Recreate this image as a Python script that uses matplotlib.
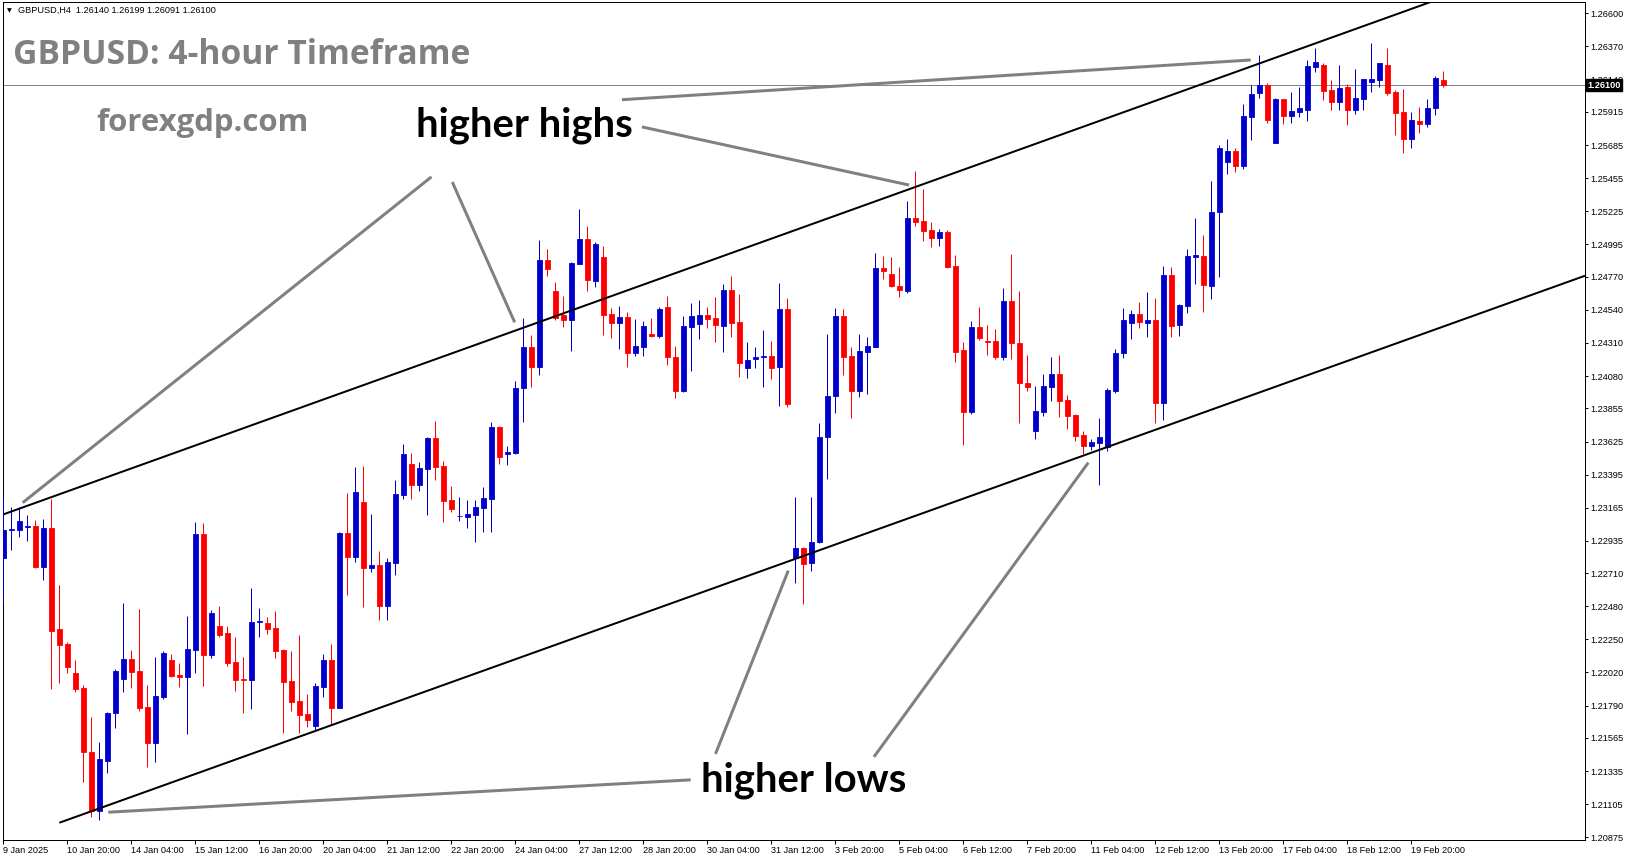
import matplotlib
matplotlib.use("Agg")
import matplotlib.pyplot as plt
import matplotlib.transforms as mtransforms

# ---------------- data (GBPUSD H4, bars from 9 Jan 2025 12:00) ----------------
opens = [1.22818, 1.23008, 1.23010, 1.23033, 1.23038, 1.22755, 1.23024, 1.22322, 1.22218, 1.22017,
         1.21915, 1.21470, 1.21058, 1.21408, 1.21736, 1.21977, 1.22114, 1.22031, 1.21781, 1.21532,
         1.21852, 1.22107, 1.22000, 1.21991, 1.22176, 1.22982, 1.22144, 1.22343, 1.22297, 1.22093,
         1.21975, 1.21970, 1.22369, 1.22364, 1.22330, 1.22176, 1.21963, 1.21822, 1.21732, 1.21648,
         1.21922, 1.22107, 1.21776, 1.22987, 1.22825, 1.23202, 1.22748, 1.22764, 1.22484, 1.22783,
         1.23255, 1.23468, 1.23322, 1.23436, 1.23649, 1.23454, 1.23218, 1.23105, 1.23102, 1.23114,
         1.23165, 1.23228, 1.23723, 1.23540, 1.23543, 1.23999, 1.24279, 1.24145, 1.24886, 1.24670,
         1.24504, 1.24469, 1.24858, 1.25030, 1.24742, 1.24905, 1.24511, 1.24451, 1.24488, 1.24242,
         1.24284, 1.24370, 1.24360, 1.24557, 1.24210, 1.23978, 1.24423, 1.24441, 1.24504, 1.24481,
         1.24430, 1.24678, 1.24458, 1.24133, 1.24196, 1.24210, 1.24219, 1.24140, 1.24546, 1.22813,
         1.22883, 1.22779, 1.22924, 1.23654, 1.23941, 1.24497, 1.24219, 1.23978, 1.24249, 1.24284,
         1.24832, 1.24788, 1.24705, 1.24673, 1.25178, 1.25157, 1.25094, 1.25041, 1.25083, 1.24844,
         1.24260, 1.23832, 1.24423, 1.24323, 1.24323, 1.24214, 1.24601, 1.24307, 1.24029, 1.23700,
         1.23832, 1.24006, 1.24094, 1.23913, 1.23809, 1.23670, 1.23596, 1.23617, 1.23589, 1.23976,
         1.24238, 1.24447, 1.24511, 1.24451, 1.24470, 1.23890, 1.24782, 1.24435, 1.24569, 1.24907,
         1.24914, 1.24708, 1.25218, 1.25570, 1.25644, 1.25542, 1.25882, 1.26044, 1.26102, 1.25701,
         1.26005, 1.25889, 1.25917, 1.25928, 1.26229, 1.26241, 1.26067, 1.25986, 1.26086, 1.25928,
         1.26005, 1.26125, 1.26137, 1.26241, 1.26053, 1.25914, 1.25729, 1.25852, 1.25833, 1.25944,
         1.26140]
highs = [1.23230, 1.23168, 1.23168, 1.23114, 1.23080, 1.23087, 1.23223, 1.22628, 1.22232, 1.22107,
         1.21933, 1.21713, 1.21537, 1.21748, 1.22045, 1.22503, 1.22176, 1.22461, 1.21933, 1.22130,
         1.22169, 1.22149, 1.22084, 1.22415, 1.23068, 1.23061, 1.22454, 1.22484, 1.22345, 1.22269,
         1.22130, 1.22610, 1.22471, 1.22408, 1.22447, 1.22180, 1.22169, 1.22280, 1.21871, 1.21950,
         1.22149, 1.22218, 1.22998, 1.23270, 1.23450, 1.23455, 1.23120, 1.22864, 1.22813, 1.23357,
         1.23607, 1.23542, 1.23480, 1.23658, 1.23770, 1.23489, 1.23315, 1.23241, 1.23218, 1.23218,
         1.23311, 1.23758, 1.23732, 1.23593, 1.24045, 1.24481, 1.24365, 1.25025, 1.24960, 1.24733,
         1.24636, 1.24874, 1.25240, 1.25122, 1.25013, 1.24983, 1.24550, 1.24566, 1.24527, 1.24476,
         1.24462, 1.24481, 1.24562, 1.24636, 1.24289, 1.24497, 1.24590, 1.24608, 1.24562, 1.24631,
         1.24720, 1.24775, 1.24650, 1.24319, 1.24284, 1.24400, 1.24323, 1.24729, 1.24620, 1.23242,
         1.22890, 1.23242, 1.23756, 1.24372, 1.24550, 1.24546, 1.24284, 1.24374, 1.24351, 1.24937,
         1.24914, 1.24904, 1.24835, 1.25298, 1.25506, 1.25379, 1.25152, 1.25101, 1.25094, 1.24920,
         1.24318, 1.24464, 1.24561, 1.24434, 1.24406, 1.24693, 1.24927, 1.24670, 1.24226, 1.24010,
         1.24094, 1.24210, 1.24226, 1.23948, 1.23816, 1.23698, 1.23640, 1.23786, 1.23995, 1.24266,
         1.24551, 1.24539, 1.24592, 1.24662, 1.24625, 1.24845, 1.24835, 1.24581, 1.24960, 1.25176,
         1.25060, 1.25435, 1.25685, 1.25727, 1.25667, 1.25970, 1.26102, 1.26310, 1.26119, 1.26014,
         1.26005, 1.26056, 1.26090, 1.26276, 1.26361, 1.26252, 1.26137, 1.26241, 1.26109, 1.26213,
         1.26141, 1.26391, 1.26252, 1.26361, 1.26067, 1.26074, 1.25914, 1.25947, 1.26005, 1.26164,
         1.26199]
lows = [1.22512, 1.22871, 1.22964, 1.22936, 1.22744, 1.22663, 1.21905, 1.21950, 1.22019, 1.21882,
        1.21257, 1.21014, 1.20995, 1.21319, 1.21632, 1.21887, 1.21915, 1.21753, 1.21366, 1.21401,
        1.21834, 1.21991, 1.21922, 1.21595, 1.22014, 1.21929, 1.22123, 1.22269, 1.22067, 1.21894,
        1.21741, 1.21764, 1.22269, 1.22290, 1.22123, 1.21602, 1.21753, 1.21602, 1.21644, 1.21621,
        1.21852, 1.21655, 1.21771, 1.22559, 1.22790, 1.22477, 1.22720, 1.22384, 1.22384, 1.22697,
        1.23225, 1.23225, 1.23283, 1.23114, 1.23357, 1.23068, 1.23137, 1.23075, 1.23021, 1.22929,
        1.22998, 1.22998, 1.23468, 1.23462, 1.23538, 1.23762, 1.24006, 1.24087, 1.24774, 1.24469,
        1.24423, 1.24256, 1.24858, 1.24673, 1.24700, 1.24365, 1.24346, 1.24265, 1.24145, 1.24221,
        1.24221, 1.24353, 1.24346, 1.24157, 1.23930, 1.23967, 1.24117, 1.24337, 1.24416, 1.24319,
        1.24249, 1.24353, 1.24075, 1.24069, 1.24138, 1.24006, 1.24057, 1.23874, 1.23862, 1.22644,
        1.22494, 1.22728, 1.22917, 1.23362, 1.23821, 1.24087, 1.23790, 1.23936, 1.23955, 1.24279,
        1.24751, 1.24700, 1.24631, 1.24659, 1.25122, 1.25020, 1.24978, 1.24985, 1.24832, 1.24179,
        1.23600, 1.23816, 1.24330, 1.24226, 1.24198, 1.24191, 1.24198, 1.23756, 1.23978, 1.23642,
        1.23804, 1.23908, 1.23797, 1.23714, 1.23630, 1.23538, 1.23566, 1.23323, 1.23559, 1.23965,
        1.24208, 1.24335, 1.24412, 1.24354, 1.23756, 1.23775, 1.24354, 1.24361, 1.24520, 1.24720,
        1.24527, 1.24615, 1.24766, 1.25484, 1.25500, 1.25519, 1.25720, 1.26014, 1.25841, 1.25701,
        1.25831, 1.25840, 1.25882, 1.25854, 1.26195, 1.26000, 1.25928, 1.25928, 1.25824, 1.25898,
        1.25928, 1.26056, 1.26090, 1.26032, 1.25754, 1.25632, 1.25667, 1.25766, 1.25812, 1.25893,
        1.26091]
closes = [1.23010, 1.23017, 1.23073, 1.23038, 1.22755, 1.23024, 1.22311, 1.22213, 1.22061, 1.21905,
          1.21470, 1.21058, 1.21419, 1.21741, 1.22033, 1.22114, 1.22026, 1.21776, 1.21532, 1.21857,
          1.22158, 1.21996, 1.21991, 1.22183, 1.22982, 1.22144, 1.22431, 1.22280, 1.22088, 1.21970,
          1.21970, 1.22371, 1.22376, 1.22325, 1.22172, 1.21956, 1.21817, 1.21725, 1.21690, 1.21926,
          1.22107, 1.21776, 1.22987, 1.22825, 1.23272, 1.22748, 1.22764, 1.22484, 1.22785, 1.23260,
          1.23538, 1.23322, 1.23440, 1.23651, 1.23450, 1.23214, 1.23156, 1.23110, 1.23121, 1.23170,
          1.23230, 1.23723, 1.23520, 1.23552, 1.23994, 1.24279, 1.24145, 1.24886, 1.24821, 1.24485,
          1.24469, 1.24863, 1.25030, 1.24747, 1.24995, 1.24504, 1.24451, 1.24488, 1.24242, 1.24289,
          1.24427, 1.24360, 1.24546, 1.24210, 1.23978, 1.24427, 1.24497, 1.24504, 1.24476, 1.24434,
          1.24678, 1.24446, 1.24168, 1.24191, 1.24210, 1.24219, 1.24133, 1.24546, 1.23883, 1.22883,
          1.22774, 1.22924, 1.23659, 1.23941, 1.24497, 1.24214, 1.23978, 1.24254, 1.24288, 1.24832,
          1.24812, 1.24705, 1.24677, 1.25178, 1.25152, 1.25090, 1.25041, 1.25083, 1.24839, 1.24249,
          1.23832, 1.24423, 1.24346, 1.24318, 1.24214, 1.24601, 1.24307, 1.24029, 1.24006, 1.23837,
          1.24010, 1.24094, 1.23908, 1.23804, 1.23665, 1.23596, 1.23621, 1.23654, 1.23983, 1.24238,
          1.24470, 1.24511, 1.24458, 1.24467, 1.23890, 1.24782, 1.24430, 1.24574, 1.24914, 1.24921,
          1.24713, 1.25218, 1.25667, 1.25644, 1.25542, 1.25887, 1.26040, 1.26102, 1.25859, 1.26005,
          1.25889, 1.25921, 1.25942, 1.26234, 1.26262, 1.26063, 1.25986, 1.26081, 1.25928, 1.26009,
          1.26141, 1.26141, 1.26252, 1.26049, 1.25910, 1.25729, 1.25859, 1.25833, 1.25940, 1.26148,
          1.26100]

x_labels = ["9 Jan 2025", "10 Jan 20:00", "14 Jan 04:00", "15 Jan 12:00", "16 Jan 20:00",
            "20 Jan 04:00", "21 Jan 12:00", "22 Jan 20:00", "24 Jan 04:00", "27 Jan 12:00",
            "28 Jan 20:00", "30 Jan 04:00", "31 Jan 12:00", "3 Feb 20:00", "5 Feb 04:00",
            "6 Feb 12:00", "7 Feb 20:00", "11 Feb 04:00", "12 Feb 12:00", "13 Feb 20:00",
            "17 Feb 04:00", "18 Feb 12:00", "19 Feb 20:00"]
y_ticks = [1.26600, 1.26370, 1.26140, 1.25915, 1.25685, 1.25455, 1.25225, 1.24995, 1.24770,
           1.24540, 1.24310, 1.24080, 1.23855, 1.23625, 1.23395, 1.23165, 1.22935, 1.22710,
           1.22480, 1.22250, 1.22020, 1.21790, 1.21565, 1.21335, 1.21105, 1.20875]
last_price = 1.26100
header = "GBPUSD,H4  1.26140 1.26199 1.26091 1.26100"

# channel trend lines (bar index, price)
upper_channel = [(0.0, 1.23119), (135.2, 1.25817)]
lower_channel = [(6.98, 1.20976), (197.7, 1.24777)]

# ---------------- figure ----------------
W, H = 1631, 861
fig = plt.figure(figsize=(W / 100, H / 100), dpi=100)
fig.patch.set_facecolor("white")
ax = fig.add_axes([2.7 / W, 1 - 840 / H, (1585 - 2.7) / W, (840 - 1.7) / H])
ax.set_facecolor("white")

BULL = "#0000CD"
BEAR = "#FF0000"
px = 0.72  # one pixel in points

n = len(opens)
xs = list(range(n))
for i in xs:
    o, h, l, c = opens[i], highs[i], lows[i], closes[i]
    col = BULL if c >= o else BEAR
    ax.vlines(i, l, h, color=col, lw=1.0 * px, zorder=3)
    ax.bar(i, abs(c - o), bottom=min(o, c), width=0.56, color=col,
           edgecolor=col, linewidth=0.6, zorder=4)

ax.set_xlim(-0.1, 197.69)
ax.set_ylim(1.20856, 1.26681)

# last price line
ax.axhline(last_price, color="#778899", lw=1.0 * px, zorder=2)


def extend(p0, p1, x_end):
    (x0, y0), (x1, y1) = p0, p1
    s = (y1 - y0) / (x1 - x0)
    return [x0, x_end], [y0, y0 + s * (x_end - x0)]


ux, uy = extend(upper_channel[0], upper_channel[1], 215)
ax.plot(ux, uy, color="black", lw=2 * px, zorder=5, solid_capstyle="butt")
lx, ly = extend(lower_channel[0], lower_channel[1], 197.69)
ax.plot(lx, ly, color="black", lw=2 * px, zorder=5, solid_capstyle="butt")

# annotation pointer lines (bar index, price)
gray = "#808080"
pointers = [
    [(53.5, 1.25464), (2.4, 1.23200)],
    [(56.1, 1.25428), (63.9, 1.24453)],
    [(79.8, 1.25811), (113.2, 1.25407)],
    [(77.3, 1.26000), (155.9, 1.26276)],
    [(85.9, 1.21274), (13.1, 1.21049)],
    [(89.0, 1.21454), (98.1, 1.22728)],
    [(108.8, 1.21433), (135.6, 1.23478)],
]
for (a, b) in pointers:
    ax.plot([a[0], b[0]], [a[1], b[1]], color=gray, lw=3 * px, zorder=6,
            solid_capstyle="butt")

# axes styling
for sp in ax.spines.values():
    sp.set_color("black")
    sp.set_linewidth(1.0 * px)

small = dict(family="Liberation Sans", size=6.6)
ax.yaxis.tick_right()
ax.set_yticks(y_ticks)
ax.set_yticklabels([f"{v:.5f}" for v in y_ticks], fontfamily="Liberation Sans", fontsize=6.6)
ax.tick_params(axis="y", direction="out", length=3 * px, width=px, pad=2.5 * px, colors="black")

tick_pos = [8 * k for k in range(len(x_labels))]
ax.set_xticks(tick_pos)
ax.set_xticklabels(x_labels, fontfamily="Liberation Sans", fontsize=6.6, ha="left")
ax.tick_params(axis="x", direction="out", length=4 * px, width=px, pad=2 * px, colors="black")

# last price tag on the axis
tr = mtransforms.blended_transform_factory(ax.transAxes, ax.transData)
ax.text(1.0015, last_price, f"{last_price:.5f}", transform=tr, va="center", ha="left",
        color="white", fontfamily="Liberation Sans", fontsize=6.6, fontweight="bold",
        bbox=dict(boxstyle="square,pad=0.18", fc="black", ec="black"), zorder=10, clip_on=False)

# header
fig.text(7 / W, 1 - 10.7 / H, "\u25BC", fontsize=4.5, family="DejaVu Sans", va="center", ha="left")
fig.text(18.3 / W, 1 - 10.7 / H, header, va="center", ha="left", **small)

renderer = fig.canvas.get_renderer()


def fit_text(x0, baseline, width, s, family, color):
    t = fig.text(x0 / W, 1 - baseline / H, s, fontsize=20, family=family, fontweight="bold",
                 color=color, va="baseline", ha="left", zorder=20)
    bb = t.get_window_extent(renderer)
    t.set_fontsize(20 * width / bb.width)
    return t


fit_text(12.7, 64.3, 458, "GBPUSD: 4-hour Timeframe", "Open Sans", gray)
fit_text(96.7, 130.7, 212.6, "forexgdp.com", "Open Sans", gray)
fit_text(416.1, 136.2, 216.3, "higher highs", "Lato", "black")
fit_text(701.1, 791.4, 204.9, "higher lows", "Lato", "black")

fig.savefig("out.png", dpi=100, facecolor="white")
